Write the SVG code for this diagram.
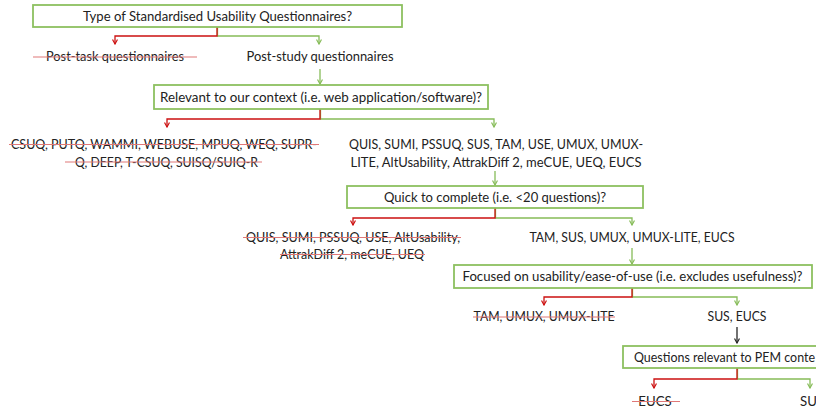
<svg xmlns="http://www.w3.org/2000/svg" width="816" height="410" viewBox="0 0 816 410">
<style>
.box{fill:#ffffff;stroke:#8DC060;stroke-width:1.8}
.t{font-family:Lato,"Liberation Sans",sans-serif;font-size:13.2px;fill:#222222}
.m{text-anchor:middle}
.r{fill:none;stroke:#CC1010;stroke-width:1.3}
.g{fill:none;stroke:#86BC58;stroke-width:1.3}
.k{fill:none;stroke:#262626;stroke-width:1.3}
.s{stroke:#E07878;stroke-width:1.2}
</style>
<defs>
<marker id="ar" viewBox="0 0 6 6" refX="5" refY="3" markerWidth="6" markerHeight="6" markerUnits="userSpaceOnUse" orient="auto"><path d="M0.5,0.5 L5,3 L0.5,5.5" fill="none" stroke="#CC1010" stroke-width="1.2"/></marker>
<marker id="ag" viewBox="0 0 6 6" refX="5" refY="3" markerWidth="6" markerHeight="6" markerUnits="userSpaceOnUse" orient="auto"><path d="M0.5,0.5 L5,3 L0.5,5.5" fill="none" stroke="#86BC58" stroke-width="1.2"/></marker>
<marker id="ak" viewBox="0 0 6 6" refX="5" refY="3" markerWidth="6" markerHeight="6" markerUnits="userSpaceOnUse" orient="auto"><path d="M0.5,0.5 L5,3 L0.5,5.5" fill="none" stroke="#262626" stroke-width="1.2"/></marker>
</defs>
<rect width="816" height="410" fill="#ffffff"/>

<g id="connectors">
<path class="g" d="M217.5,27 V36 H319 V44" marker-end="url(#ag)"/>
<path class="r" d="M217,27 V36 H115 V44" marker-end="url(#ar)"/>
<path class="g" d="M320,69 V84" marker-end="url(#ag)"/>
<path class="g" d="M320.5,109 V119 H494 V127" marker-end="url(#ag)"/>
<path class="r" d="M320,109 V119 H167 V127" marker-end="url(#ar)"/>
<path class="g" d="M495,171 V185" marker-end="url(#ag)"/>
<path class="g" d="M495.5,208 V218 H632 V225" marker-end="url(#ag)"/>
<path class="r" d="M495,208 V218 H353 V225" marker-end="url(#ar)"/>
<path class="g" d="M632,248 V264" marker-end="url(#ag)"/>
<path class="g" d="M632.5,288 V297 H737 V305" marker-end="url(#ag)"/>
<path class="r" d="M632,288 V297 H544 V305" marker-end="url(#ar)"/>
<path class="k" d="M737,327 V343" marker-end="url(#ak)"/>
<path class="g" d="M737.5,368 V379 H810 V388" marker-end="url(#ag)"/>
<path class="r" d="M737,368 V379 H654 V388" marker-end="url(#ar)"/>
</g>

<g id="q1">
<rect class="box" x="33" y="5" width="369" height="22"/>
<text class="t m" x="217.5" y="20.5" textLength="269" lengthAdjust="spacingAndGlyphs">Type of Standardised Usability Questionnaires?</text>
</g>
<g id="post-task">
<text class="t m" x="115" y="60.5" textLength="138" lengthAdjust="spacingAndGlyphs">Post-task questionnaires</text>
<line class="s" x1="33" y1="57" x2="197" y2="57"/>
</g>
<g id="post-study">
<text class="t m" x="320" y="60.5" textLength="147" lengthAdjust="spacingAndGlyphs">Post-study questionnaires</text>
</g>

<g id="q2">
<rect class="box" x="154" y="85" width="334" height="24"/>
<text class="t m" x="321" y="101.5" textLength="322" lengthAdjust="spacingAndGlyphs">Relevant to our context (i.e. web application/software)?</text>
</g>
<g id="not-relevant">
<text class="t m" x="164" y="149" textLength="306" lengthAdjust="spacingAndGlyphs">CSUQ, PUTQ, WAMMI, WEBUSE, MPUQ, WEQ, SUPR-</text>
<text class="t m" x="166.5" y="166.5" textLength="183" lengthAdjust="spacingAndGlyphs">Q, DEEP, T-CSUQ, SUISQ/SUIQ-R</text>
<line class="s" x1="9" y1="144.5" x2="319" y2="144.5"/>
<line class="s" x1="65" y1="162" x2="262" y2="162"/>
</g>
<g id="relevant">
<text class="t m" x="496" y="149" textLength="294" lengthAdjust="spacingAndGlyphs">QUIS, SUMI, PSSUQ, SUS, TAM, USE, UMUX, UMUX-</text>
<text class="t m" x="496" y="166.5" textLength="291" lengthAdjust="spacingAndGlyphs">LITE, AltUsability, AttrakDiff 2, meCUE, UEQ, EUCS</text>
</g>

<g id="q3">
<rect class="box" x="347" y="186" width="296" height="22"/>
<text class="t m" x="495" y="201.5" textLength="222" lengthAdjust="spacingAndGlyphs">Quick to complete (i.e. &lt;20 questions)?</text>
</g>
<g id="not-quick">
<text class="t m" x="353" y="242" textLength="214" lengthAdjust="spacingAndGlyphs">QUIS, SUMI, PSSUQ, USE, AltUsability,</text>
<text class="t m" x="352" y="259" textLength="144" lengthAdjust="spacingAndGlyphs">AttrakDiff 2, meCUE, UEQ</text>
<line class="s" x1="243" y1="237.5" x2="461" y2="237.5"/>
<line class="s" x1="280" y1="254.5" x2="425" y2="254.5"/>
</g>
<g id="quick">
<text class="t m" x="632" y="242" textLength="205" lengthAdjust="spacingAndGlyphs">TAM, SUS, UMUX, UMUX-LITE, EUCS</text>
</g>

<g id="q4">
<rect class="box" x="454" y="265" width="358" height="23"/>
<text class="t m" x="632.5" y="281" textLength="340" lengthAdjust="spacingAndGlyphs">Focused on usability/ease-of-use (i.e. excludes usefulness)?</text>
</g>
<g id="not-focused">
<text class="t m" x="544" y="321" textLength="141" lengthAdjust="spacingAndGlyphs">TAM, UMUX, UMUX-LITE</text>
<line class="s" x1="473" y1="317" x2="615" y2="317"/>
</g>
<g id="focused">
<text class="t m" x="737" y="321" textLength="59" lengthAdjust="spacingAndGlyphs">SUS, EUCS</text>
</g>

<g id="q5">
<rect class="box" x="623" y="346" width="210" height="22"/>
<text class="t" x="634" y="361.5" textLength="181" lengthAdjust="spacingAndGlyphs">Questions relevant to PEM conte</text>
</g>
<g id="not-pem">
<text class="t m" x="655" y="406">EUCS</text>
<line class="s" x1="632" y1="401.5" x2="680" y2="401.5"/>
</g>
<g id="pem">
<text class="t" x="800" y="406">SUS</text>
</g>
</svg>
